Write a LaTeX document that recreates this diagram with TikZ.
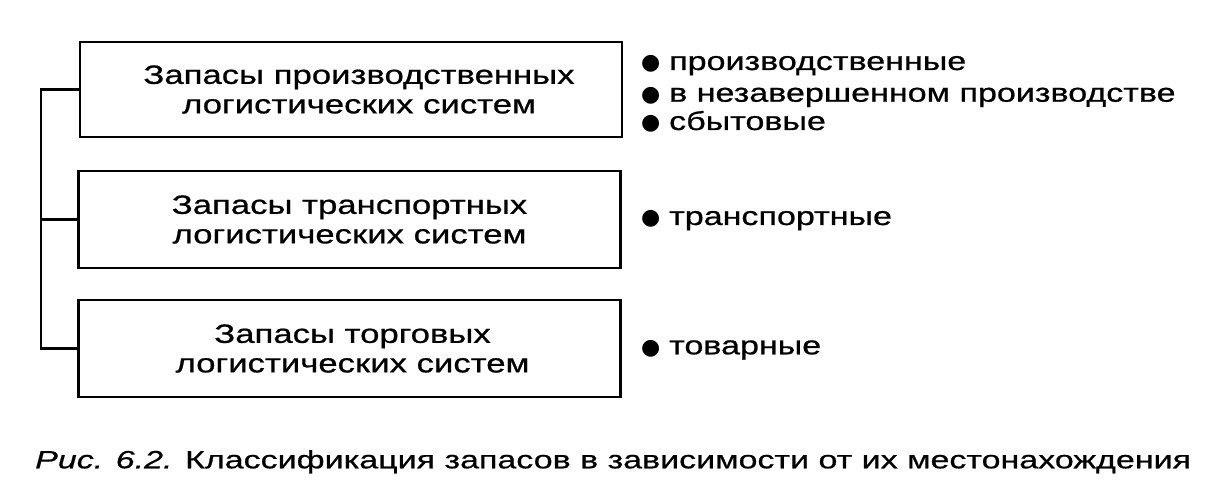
\documentclass[tikz,border=0pt]{standalone}
\usepackage{fontspec}
\setmainfont{Liberation Sans}
\newfontfamily\boxfont[FakeStretch=1.31,FakeBold=0.8]{Liberation Sans}
\newfontfamily\capfont[FakeStretch=1.36,FakeBold=0.6]{Liberation Sans}
\newfontfamily\dotfont{DejaVu Sans}
\newcommand{\blt}{\makebox[28pt][l]{\dotfont\fontsize{22}{22}\selectfont ●}}
\begin{document}
\begin{tikzpicture}[x=1pt,y=-1pt,
  catbox/.style={draw=black, line width=2.4pt, minimum width=542pt, inner sep=0pt,
    align=center, font=\boxfont\fontsize{26.5}{29.5}\selectfont},
  item/.style={anchor=base west, inner sep=0pt, font=\boxfont\fontsize{26}{30}\selectfont},
  link/.style={draw=black, line width=2.4pt},
  caption/.style={anchor=base west, inner sep=0pt, font=\capfont\fontsize{25}{30}\selectfont}]
\useasboundingbox[fill=white] (0,0) rectangle (1216,502);
\node[catbox, minimum height=95pt] (b1) at (351,89.5) {\hspace*{16pt}Запасы производственных\\\hspace*{16pt}логистических систем};
\node[catbox, minimum height=97pt] (b2) at (349.5,219.5) {Запасы транспортных\\логистических систем};
\node[catbox, minimum height=97pt] (b3) at (349.5,348.5) {\hspace*{6pt}Запасы торговых\\\hspace*{6pt}логистических систем};
\draw[link] (b1.west) -- ++(-38,0) coordinate (j1) |- (b3.west);
\draw[link] (b2.west) -- (j1 |- b2.west);
\node[item] (i1) at (641,70) {\blt производственные};
\node[item] (i2) at (641,101.7) {\blt в незавершенном производстве};
\node[item] (i3) at (641,130) {\blt сбытовые};
\node[item] (i4) at (641,225) {\blt транспортные};
\node[item] (i5) at (641,354.3) {\blt товарные};
\node[caption] (cap) at (35,468.3) {\textit{Рис. 6.2.} Классификация запасов в зависимости от их местонахождения};
\end{tikzpicture}
\end{document}
